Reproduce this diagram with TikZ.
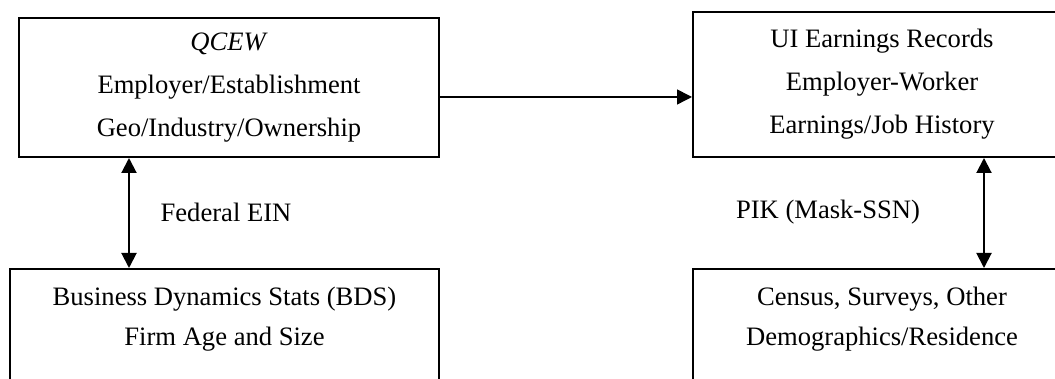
\documentclass[tikz,border=0pt]{standalone}
\usepackage{fontspec}
\setmainfont{Liberation Serif}
\usepackage{tikz}
\usetikzlibrary{arrows.meta,positioning}

\begin{document}
\begin{tikzpicture}[x=1pt, y=1pt, line width=2pt,
  box/.style={draw, rectangle, anchor=north west, align=center, inner sep=0pt,
    font=\fontsize{26.6pt}{43pt}\selectfont},
  lowbox/.style={box, font=\fontsize{26.6pt}{40pt}\selectfont},
  linklabel/.style={font=\fontsize{26.6pt}{32pt}\selectfont},
  >={Triangle[length=15pt,width=15pt]}]
\useasboundingbox (0,0) rectangle (1055,379);

\node[box, minimum width=420pt, minimum height=139pt] (qcew) at (18,362)
  {\textit{QCEW}\\Employer/Establishment\\Geo/Industry/Ownership};
\node[box, minimum width=378pt, minimum height=145pt] (ui) at (692,368)
  {UI Earnings Records\\Employer-Worker\\Earnings/Job History};
\node[lowbox, minimum width=429pt, minimum height=134pt] (bds) at (9,111)
  {Business Dynamics Stats (BDS)\\Firm Age and Size\\\mbox{}};
\node[lowbox, minimum width=378pt, minimum height=134pt] (census) at (692,111)
  {Census, Surveys, Other\\Demographics/Residence\\\mbox{}};

\coordinate (link) at ([yshift=-9.5pt]qcew.east);
\coordinate (ein) at ([xshift=-100pt]qcew.south);
\coordinate (pik) at ([xshift=102pt]ui.south);

\draw[->, line width=1.5pt] (link) -- (link -| ui.west);
\draw[<->] (ein) -- (ein |- bds.north);
\draw[<->] (pik) -- (pik |- census.north);

\node[linklabel] (einlabel) at (226,167) {Federal EIN};
\node[linklabel] (piklabel) at (828,167) {PIK (Mask-SSN)};
\end{tikzpicture}
\end{document}
